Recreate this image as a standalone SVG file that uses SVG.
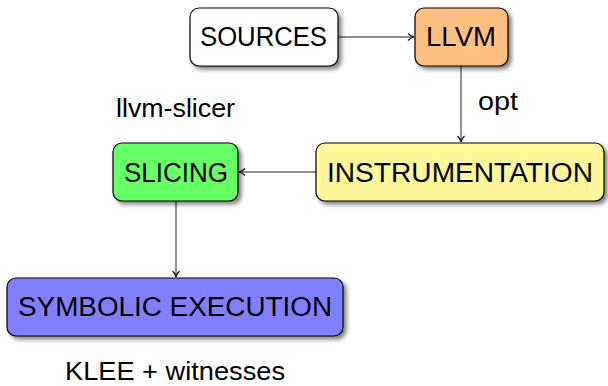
<svg xmlns="http://www.w3.org/2000/svg" width="608" height="386" viewBox="0 0 608 386">
<defs>
<filter id="sh" x="-10%" y="-20%" width="130%" height="150%">
<feGaussianBlur in="SourceAlpha" stdDeviation="2"/>
<feOffset dx="3" dy="3" result="b"/>
<feComponentTransfer><feFuncA type="linear" slope="0.5"/></feComponentTransfer>
<feMerge><feMergeNode/><feMergeNode in="SourceGraphic"/></feMerge>
</filter>
<marker id="ar" markerWidth="10" markerHeight="10" refX="8" refY="5" orient="auto" markerUnits="userSpaceOnUse">
<path d="M2,1.5 Q5,4.5 8,5 Q5,5.5 2,8.5" fill="none" stroke="#000" stroke-width="1.1"/>
</marker>
</defs>
<style>
.box{stroke:#000;stroke-width:1.2;filter:url(#sh)}
.t{font-family:"Liberation Sans","DejaVu Sans",sans-serif;font-size:27px;fill:#000}
.l{font-family:"Liberation Sans","DejaVu Sans",sans-serif;font-size:26px;fill:#000}
.c{stroke:#222;stroke-width:1;fill:none;marker-end:url(#ar)}
</style>
<g id="connectors">
<line class="c" x1="338" y1="37" x2="414" y2="37"/>
<line class="c" x1="461" y1="66" x2="461" y2="142"/>
<line class="c" x1="316" y1="172" x2="239" y2="172"/>
<line class="c" x1="176" y1="201" x2="176" y2="277"/>
</g>
<g id="sources">
<rect class="box" x="190" y="8" width="148" height="58" rx="9" fill="#ffffff"/>
<text class="t" x="200" y="46" textLength="127" lengthAdjust="spacingAndGlyphs">SOURCES</text>
</g>
<g id="llvm">
<rect class="box" x="415" y="8" width="93" height="58" rx="9" fill="#ffbf80"/>
<text class="t" x="426" y="46" textLength="70" lengthAdjust="spacingAndGlyphs">LLVM</text>
</g>
<g id="instrumentation">
<rect class="box" x="316" y="143" width="288" height="58" rx="9" fill="#fff799"/>
<text class="t" x="327" y="182" textLength="266" lengthAdjust="spacingAndGlyphs">INSTRUMENTATION</text>
</g>
<g id="slicing">
<rect class="box" x="113" y="143" width="125" height="58" rx="9" fill="#66ff66"/>
<text class="t" x="124" y="182" textLength="104" lengthAdjust="spacingAndGlyphs">SLICING</text>
</g>
<g id="symbolic">
<rect class="box" x="7" y="278" width="336" height="58" rx="9" fill="#8080ff"/>
<text class="t" x="18" y="316" textLength="314" lengthAdjust="spacingAndGlyphs">SYMBOLIC EXECUTION</text>
</g>
<g id="labels">
<text class="l" x="116" y="117" textLength="119" lengthAdjust="spacingAndGlyphs">llvm-slicer</text>
<text class="l" x="478" y="110" textLength="40" lengthAdjust="spacingAndGlyphs">opt</text>
<text class="l" x="65" y="380" textLength="220" lengthAdjust="spacingAndGlyphs" style="font-size:25px">KLEE + witnesses</text>
</g>
</svg>
